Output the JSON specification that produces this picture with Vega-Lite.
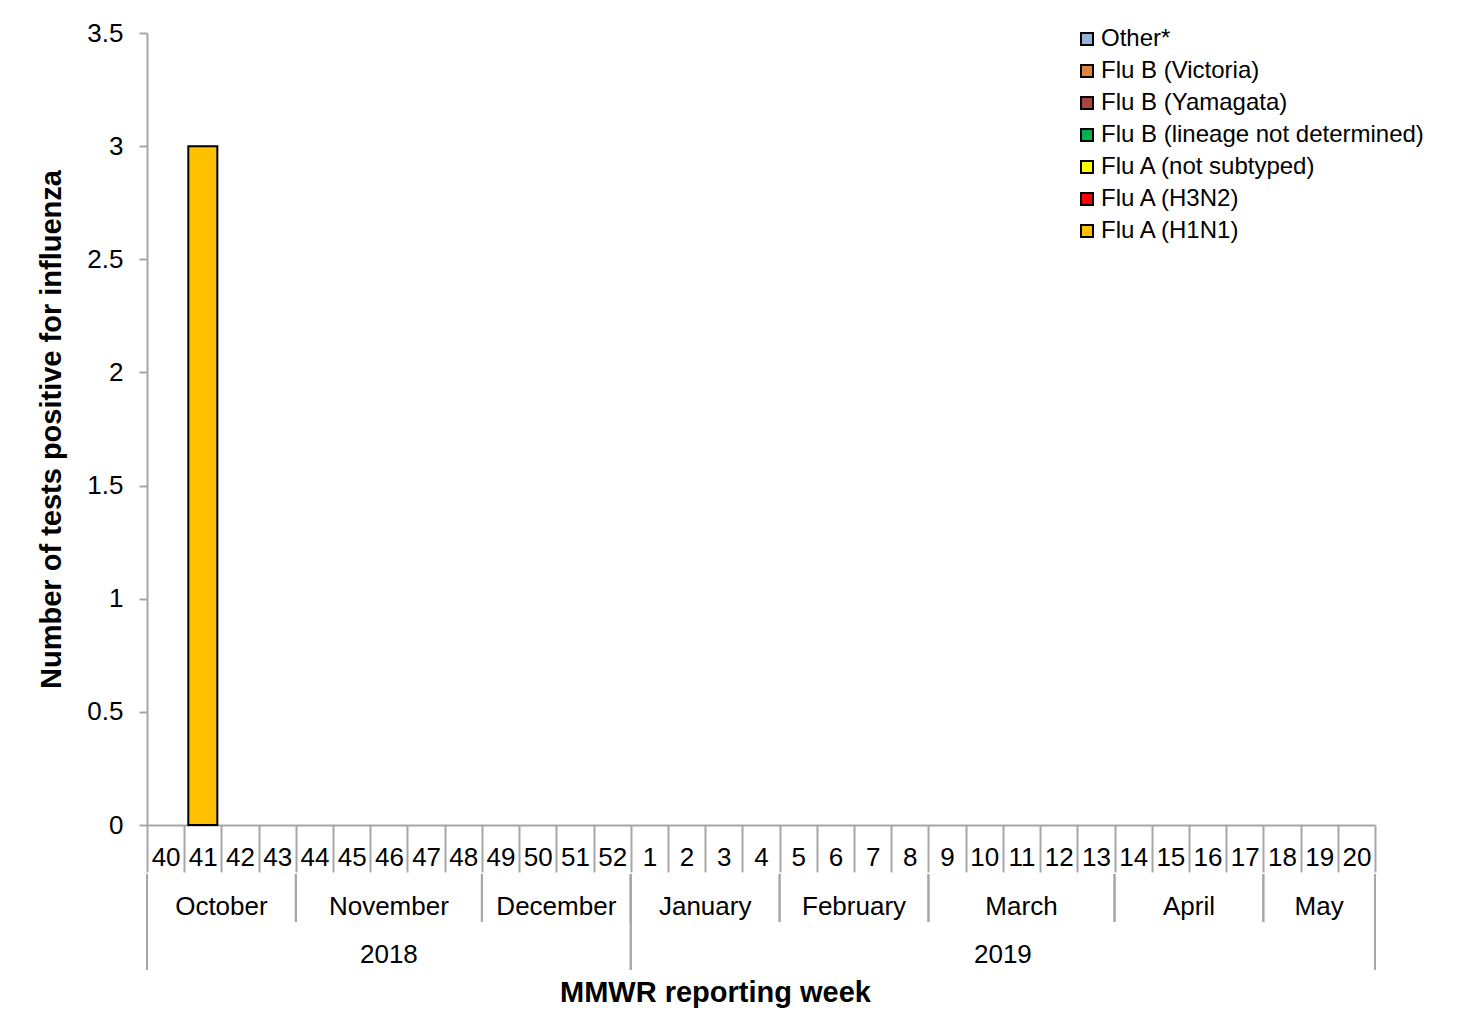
{
  "$schema": "https://vega.github.io/schema/vega-lite/v6.json",
  "background": "white",
  "padding": {"left": 37, "top": 20, "right": 5, "bottom": 5},
  "config": {"font": "Liberation Sans", "view": {"stroke": null}},
  "datasets": {
    "weekly": [
      {"week": "40", "Other*": 0, "Flu B (Victoria)": 0, "Flu B (Yamagata)": 0, "Flu B (lineage not determined)": 0, "Flu A (not subtyped)": 0, "Flu A (H3N2)": 0, "Flu A (H1N1)": 0},
      {"week": "41", "Other*": 0, "Flu B (Victoria)": 0, "Flu B (Yamagata)": 0, "Flu B (lineage not determined)": 0, "Flu A (not subtyped)": 0, "Flu A (H3N2)": 0, "Flu A (H1N1)": 3},
      {"week": "42", "Other*": 0, "Flu B (Victoria)": 0, "Flu B (Yamagata)": 0, "Flu B (lineage not determined)": 0, "Flu A (not subtyped)": 0, "Flu A (H3N2)": 0, "Flu A (H1N1)": 0},
      {"week": "43", "Other*": 0, "Flu B (Victoria)": 0, "Flu B (Yamagata)": 0, "Flu B (lineage not determined)": 0, "Flu A (not subtyped)": 0, "Flu A (H3N2)": 0, "Flu A (H1N1)": 0},
      {"week": "44", "Other*": 0, "Flu B (Victoria)": 0, "Flu B (Yamagata)": 0, "Flu B (lineage not determined)": 0, "Flu A (not subtyped)": 0, "Flu A (H3N2)": 0, "Flu A (H1N1)": 0},
      {"week": "45", "Other*": 0, "Flu B (Victoria)": 0, "Flu B (Yamagata)": 0, "Flu B (lineage not determined)": 0, "Flu A (not subtyped)": 0, "Flu A (H3N2)": 0, "Flu A (H1N1)": 0},
      {"week": "46", "Other*": 0, "Flu B (Victoria)": 0, "Flu B (Yamagata)": 0, "Flu B (lineage not determined)": 0, "Flu A (not subtyped)": 0, "Flu A (H3N2)": 0, "Flu A (H1N1)": 0},
      {"week": "47", "Other*": 0, "Flu B (Victoria)": 0, "Flu B (Yamagata)": 0, "Flu B (lineage not determined)": 0, "Flu A (not subtyped)": 0, "Flu A (H3N2)": 0, "Flu A (H1N1)": 0},
      {"week": "48", "Other*": 0, "Flu B (Victoria)": 0, "Flu B (Yamagata)": 0, "Flu B (lineage not determined)": 0, "Flu A (not subtyped)": 0, "Flu A (H3N2)": 0, "Flu A (H1N1)": 0},
      {"week": "49", "Other*": 0, "Flu B (Victoria)": 0, "Flu B (Yamagata)": 0, "Flu B (lineage not determined)": 0, "Flu A (not subtyped)": 0, "Flu A (H3N2)": 0, "Flu A (H1N1)": 0},
      {"week": "50", "Other*": 0, "Flu B (Victoria)": 0, "Flu B (Yamagata)": 0, "Flu B (lineage not determined)": 0, "Flu A (not subtyped)": 0, "Flu A (H3N2)": 0, "Flu A (H1N1)": 0},
      {"week": "51", "Other*": 0, "Flu B (Victoria)": 0, "Flu B (Yamagata)": 0, "Flu B (lineage not determined)": 0, "Flu A (not subtyped)": 0, "Flu A (H3N2)": 0, "Flu A (H1N1)": 0},
      {"week": "52", "Other*": 0, "Flu B (Victoria)": 0, "Flu B (Yamagata)": 0, "Flu B (lineage not determined)": 0, "Flu A (not subtyped)": 0, "Flu A (H3N2)": 0, "Flu A (H1N1)": 0},
      {"week": "1", "Other*": 0, "Flu B (Victoria)": 0, "Flu B (Yamagata)": 0, "Flu B (lineage not determined)": 0, "Flu A (not subtyped)": 0, "Flu A (H3N2)": 0, "Flu A (H1N1)": 0},
      {"week": "2", "Other*": 0, "Flu B (Victoria)": 0, "Flu B (Yamagata)": 0, "Flu B (lineage not determined)": 0, "Flu A (not subtyped)": 0, "Flu A (H3N2)": 0, "Flu A (H1N1)": 0},
      {"week": "3", "Other*": 0, "Flu B (Victoria)": 0, "Flu B (Yamagata)": 0, "Flu B (lineage not determined)": 0, "Flu A (not subtyped)": 0, "Flu A (H3N2)": 0, "Flu A (H1N1)": 0},
      {"week": "4", "Other*": 0, "Flu B (Victoria)": 0, "Flu B (Yamagata)": 0, "Flu B (lineage not determined)": 0, "Flu A (not subtyped)": 0, "Flu A (H3N2)": 0, "Flu A (H1N1)": 0},
      {"week": "5", "Other*": 0, "Flu B (Victoria)": 0, "Flu B (Yamagata)": 0, "Flu B (lineage not determined)": 0, "Flu A (not subtyped)": 0, "Flu A (H3N2)": 0, "Flu A (H1N1)": 0},
      {"week": "6", "Other*": 0, "Flu B (Victoria)": 0, "Flu B (Yamagata)": 0, "Flu B (lineage not determined)": 0, "Flu A (not subtyped)": 0, "Flu A (H3N2)": 0, "Flu A (H1N1)": 0},
      {"week": "7", "Other*": 0, "Flu B (Victoria)": 0, "Flu B (Yamagata)": 0, "Flu B (lineage not determined)": 0, "Flu A (not subtyped)": 0, "Flu A (H3N2)": 0, "Flu A (H1N1)": 0},
      {"week": "8", "Other*": 0, "Flu B (Victoria)": 0, "Flu B (Yamagata)": 0, "Flu B (lineage not determined)": 0, "Flu A (not subtyped)": 0, "Flu A (H3N2)": 0, "Flu A (H1N1)": 0},
      {"week": "9", "Other*": 0, "Flu B (Victoria)": 0, "Flu B (Yamagata)": 0, "Flu B (lineage not determined)": 0, "Flu A (not subtyped)": 0, "Flu A (H3N2)": 0, "Flu A (H1N1)": 0},
      {"week": "10", "Other*": 0, "Flu B (Victoria)": 0, "Flu B (Yamagata)": 0, "Flu B (lineage not determined)": 0, "Flu A (not subtyped)": 0, "Flu A (H3N2)": 0, "Flu A (H1N1)": 0},
      {"week": "11", "Other*": 0, "Flu B (Victoria)": 0, "Flu B (Yamagata)": 0, "Flu B (lineage not determined)": 0, "Flu A (not subtyped)": 0, "Flu A (H3N2)": 0, "Flu A (H1N1)": 0},
      {"week": "12", "Other*": 0, "Flu B (Victoria)": 0, "Flu B (Yamagata)": 0, "Flu B (lineage not determined)": 0, "Flu A (not subtyped)": 0, "Flu A (H3N2)": 0, "Flu A (H1N1)": 0},
      {"week": "13", "Other*": 0, "Flu B (Victoria)": 0, "Flu B (Yamagata)": 0, "Flu B (lineage not determined)": 0, "Flu A (not subtyped)": 0, "Flu A (H3N2)": 0, "Flu A (H1N1)": 0},
      {"week": "14", "Other*": 0, "Flu B (Victoria)": 0, "Flu B (Yamagata)": 0, "Flu B (lineage not determined)": 0, "Flu A (not subtyped)": 0, "Flu A (H3N2)": 0, "Flu A (H1N1)": 0},
      {"week": "15", "Other*": 0, "Flu B (Victoria)": 0, "Flu B (Yamagata)": 0, "Flu B (lineage not determined)": 0, "Flu A (not subtyped)": 0, "Flu A (H3N2)": 0, "Flu A (H1N1)": 0},
      {"week": "16", "Other*": 0, "Flu B (Victoria)": 0, "Flu B (Yamagata)": 0, "Flu B (lineage not determined)": 0, "Flu A (not subtyped)": 0, "Flu A (H3N2)": 0, "Flu A (H1N1)": 0},
      {"week": "17", "Other*": 0, "Flu B (Victoria)": 0, "Flu B (Yamagata)": 0, "Flu B (lineage not determined)": 0, "Flu A (not subtyped)": 0, "Flu A (H3N2)": 0, "Flu A (H1N1)": 0},
      {"week": "18", "Other*": 0, "Flu B (Victoria)": 0, "Flu B (Yamagata)": 0, "Flu B (lineage not determined)": 0, "Flu A (not subtyped)": 0, "Flu A (H3N2)": 0, "Flu A (H1N1)": 0},
      {"week": "19", "Other*": 0, "Flu B (Victoria)": 0, "Flu B (Yamagata)": 0, "Flu B (lineage not determined)": 0, "Flu A (not subtyped)": 0, "Flu A (H3N2)": 0, "Flu A (H1N1)": 0},
      {"week": "20", "Other*": 0, "Flu B (Victoria)": 0, "Flu B (Yamagata)": 0, "Flu B (lineage not determined)": 0, "Flu A (not subtyped)": 0, "Flu A (H3N2)": 0, "Flu A (H1N1)": 0}
    ],
    "months": [
      {"month": "October", "start": 0, "end": 4},
      {"month": "November", "start": 4, "end": 9},
      {"month": "December", "start": 9, "end": 13},
      {"month": "January", "start": 13, "end": 17},
      {"month": "February", "start": 17, "end": 21},
      {"month": "March", "start": 21, "end": 26},
      {"month": "April", "start": 26, "end": 30},
      {"month": "May", "start": 30, "end": 33}
    ],
    "years": [
      {"year": "2018", "start": 0, "end": 13},
      {"year": "2019", "start": 13, "end": 33}
    ]
  },
  "spacing": 0,
  "resolve": {"scale": {"x": "independent", "y": "independent"}, "legend": {"color": "independent"}},
  "vconcat": [
    {
      "width": 1228,
      "height": 792,
      "data": {"name": "weekly"},
      "transform": [
        {"fold": ["Other*", "Flu B (Victoria)", "Flu B (Yamagata)", "Flu B (lineage not determined)", "Flu A (not subtyped)", "Flu A (H3N2)", "Flu A (H1N1)"], "as": ["type", "count"]},
        {"filter": "datum.count > 0"}
      ],
      "mark": {"type": "bar", "width": {"band": 0.78}, "stroke": "black", "strokeWidth": 2},
      "encoding": {
        "x": {
          "field": "week", "type": "ordinal", "sort": null,
          "scale": {"domain": ["40","41","42","43","44","45","46","47","48","49","50","51","52","1","2","3","4","5","6","7","8","9","10","11","12","13","14","15","16","17","18","19","20"], "paddingInner": 0, "paddingOuter": 0},
          "axis": {"title": null, "labelAngle": 0, "tickBand": "extent", "tickSize": 47, "tickColor": "#A6A6A6", "tickWidth": 2, "domainColor": "#A6A6A6", "domainWidth": 2, "labelFontSize": 26, "labelColor": "black", "labelBaseline": "middle", "labelPadding": -15}
        },
        "y": {
          "field": "count", "type": "quantitative", "stack": "zero",
          "scale": {"domain": [0, 3.5], "nice": false},
          "axis": {"title": "Number of tests positive for influenza", "values": [0, 0.5, 1, 1.5, 2, 2.5, 3, 3.5], "format": "~g", "grid": false, "tickSize": 8, "tickColor": "#A6A6A6", "tickWidth": 2, "domainColor": "#A6A6A6", "domainWidth": 2, "labelFontSize": 26, "labelColor": "black", "labelPadding": 16, "titleFontSize": 29, "titleFontWeight": "bold", "titleColor": "black", "titlePadding": 20}
        },
        "color": {
          "field": "type", "type": "nominal",
          "scale": {
            "domain": ["Other*", "Flu B (Victoria)", "Flu B (Yamagata)", "Flu B (lineage not determined)", "Flu A (not subtyped)", "Flu A (H3N2)", "Flu A (H1N1)"],
            "range": ["#95B3D7", "#E0843E", "#A9443F", "#00B050", "#FFFF00", "#FF0000", "#FFC000"]
          },
          "legend": {"title": null, "orient": "none", "legendX": 928, "legendY": -6, "padding": 0, "symbolType": "square", "symbolSize": 144, "symbolStrokeColor": "black", "symbolStrokeWidth": 2, "symbolOpacity": 1, "labelFontSize": 24, "labelColor": "black", "labelOffset": 2, "rowPadding": 8, "labelLimit": 0}
        }
      }
    },
    {
      "width": 1228,
      "height": 96,
      "layer": [
        {
          "data": {"name": "months"},
          "mark": {"type": "rule", "color": "#A6A6A6", "strokeWidth": 2},
          "encoding": {
            "x": {"field": "start", "type": "quantitative", "scale": {"domain": [0, 33], "nice": false, "zero": false}, "axis": {"title": "MMWR reporting week", "labels": false, "ticks": false, "domain": false, "grid": false, "titleFontSize": 29, "titleFontWeight": "bold", "titleColor": "black", "titlePadding": 8, "titleX": 568}},
            "y": {"datum": 0, "type": "quantitative", "scale": {"domain": [0, 2], "reverse": true, "nice": false}, "axis": null},
            "y2": {"datum": 1}
          }
        },
        {
          "data": {"name": "months"},
          "mark": {"type": "rule", "color": "#A6A6A6", "strokeWidth": 2},
          "encoding": {
            "x": {"field": "end", "type": "quantitative"},
            "y": {"datum": 0, "type": "quantitative"},
            "y2": {"datum": 1}
          }
        },
        {
          "data": {"name": "years"},
          "mark": {"type": "rule", "color": "#A6A6A6", "strokeWidth": 2},
          "encoding": {
            "x": {"field": "start", "type": "quantitative"},
            "y": {"datum": 0, "type": "quantitative"},
            "y2": {"datum": 2}
          }
        },
        {
          "data": {"name": "years"},
          "mark": {"type": "rule", "color": "#A6A6A6", "strokeWidth": 2},
          "encoding": {
            "x": {"field": "end", "type": "quantitative"},
            "y": {"datum": 0, "type": "quantitative"},
            "y2": {"datum": 2}
          }
        },
        {
          "data": {"name": "months"},
          "transform": [{"calculate": "(datum.start + datum.end) / 2", "as": "mid"}],
          "mark": {"type": "text", "fontSize": 26, "color": "black", "baseline": "alphabetic", "dy": -7},
          "encoding": {
            "x": {"field": "mid", "type": "quantitative"},
            "y": {"datum": 1, "type": "quantitative"},
            "text": {"field": "month"}
          }
        },
        {
          "data": {"name": "years"},
          "transform": [{"calculate": "(datum.start + datum.end) / 2", "as": "mid"}],
          "mark": {"type": "text", "fontSize": 26, "color": "black", "baseline": "alphabetic", "dy": -7},
          "encoding": {
            "x": {"field": "mid", "type": "quantitative"},
            "y": {"datum": 2, "type": "quantitative"},
            "text": {"field": "year"}
          }
        }
      ]
    }
  ]
}
